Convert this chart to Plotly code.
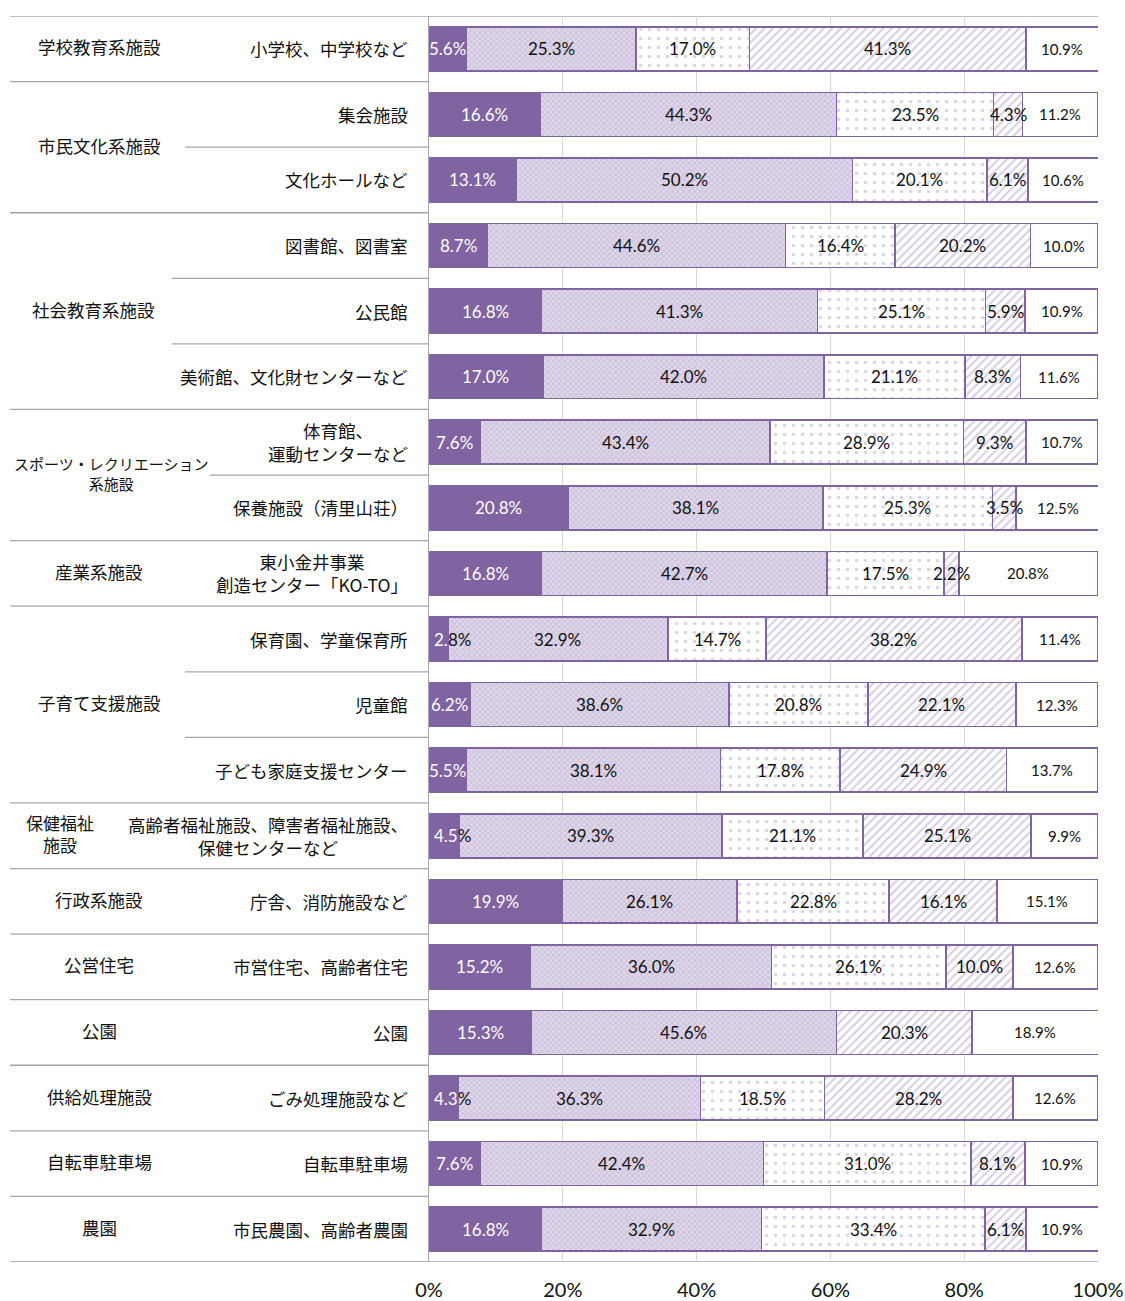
import plotly.graph_objects as go

# --- data -------------------------------------------------------------------
groups = [
    "学校教育系施設", "市民文化系施設", "社会教育系施設",
    "スポーツ・レクリエーション<br>系施設", "産業系施設", "子育て支援施設",
    "保健福祉<br>施設", "行政系施設", "公営住宅", "公園", "供給処理施設",
    "自転車駐車場", "農園",
]
group_rows = [
    [0], [1, 2], [3, 4, 5], [6, 7], [8], [9, 10, 11], [12], [13], [14],
    [15], [16], [17], [18],
]
facilities = [
    "小学校、中学校など",
    "集会施設",
    "文化ホールなど",
    "図書館、図書室",
    "公民館",
    "美術館、文化財センターなど",
    "体育館、<br>運動センターなど",
    "保養施設（清里山荘）",
    "東小金井事業<br>創造センター「KO-TO」",
    "保育園、学童保育所",
    "児童館",
    "子ども家庭支援センター",
    "高齢者福祉施設、障害者福祉施設、<br>保健センターなど",
    "庁舎、消防施設など",
    "市営住宅、高齢者住宅",
    "公園",
    "ごみ処理施設など",
    "自転車駐車場",
    "市民農園、高齢者農園",
]

share_1 = [5.6, 16.6, 13.1, 8.7, 16.8, 17.0, 7.6, 20.8, 16.8, 2.8, 6.2, 5.5,
           4.5, 19.9, 15.2, 15.3, 4.3, 7.6, 16.8]
share_2 = [25.3, 44.3, 50.2, 44.6, 41.3, 42.0, 43.4, 38.1, 42.7, 32.9, 38.6,
           38.1, 39.3, 26.1, 36.0, 45.6, 36.3, 42.4, 32.9]
share_3 = [17.0, 23.5, 20.1, 16.4, 25.1, 21.1, 28.9, 25.3, 17.5, 14.7, 20.8,
           17.8, 21.1, 22.8, 26.1, None, 18.5, 31.0, 33.4]
share_4 = [41.3, 4.3, 6.1, 20.2, 5.9, 8.3, 9.3, 3.5, 2.2, 38.2, 22.1, 24.9,
           25.1, 16.1, 10.0, 20.3, 28.2, 8.1, 6.1]
share_5 = [10.9, 11.2, 10.6, 10.0, 10.9, 11.6, 10.7, 12.5, 20.8, 11.4, 12.3,
           13.7, 9.9, 15.1, 12.6, 18.9, 12.6, 10.9, 10.9]

x_ticks = [0, 20, 40, 60, 80, 100]
x_tick_text = ["0%", "20%", "40%", "60%", "80%", "100%"]

# --- layout geometry --------------------------------------------------------
FIG_W, FIG_H = 1125, 1301
M_L, M_R, M_T, M_B = 429, 27, 16, 39
PLOT_W = FIG_W - M_L - M_R


def px_x(px):
    """Horizontal pixel position -> paper coordinate."""
    return (px - M_L) / PLOT_W


PURPLE = "#8064A2"
EDGE = "#8064A2"
JP_FONT = "Noto Sans CJK JP"
NUM_FONT = "Lato, Carlito, Calibri, Liberation Sans, sans-serif"
TEXT_DARK = "#111111"
LABEL_SIZE = 17

# approximate advance widths (em) of the label glyphs, used to colour the
# part of a label that sits on the solid segment differently from the rest
GLYPH_EM = {".": 0.25, "%": 0.80}


def two_tone(label, left_px, edge_px, size):
    """Colour characters left of edge_px white and the rest dark."""
    pos = left_px
    light, dark = "", ""
    for ch in label:
        w = GLYPH_EM.get(ch, 0.58) * size
        if pos + w / 2 <= edge_px and not dark:
            light += ch
        else:
            dark += ch
        pos += w
    out = ""
    if light:
        out += f"<span style='color:white'>{light}</span>"
    if dark:
        out += f"<span style='color:{TEXT_DARK}'>{dark}</span>"
    return out


rows = list(range(len(facilities)))

series = [
    dict(vals=share_1, name="区分1", color=PURPLE, pattern=None,
         font=dict(color="white", size=LABEL_SIZE)),
    dict(vals=share_2, name="区分2", color="#DED6E9",
         pattern=dict(shape="x", bgcolor="#E0D8EA", fgcolor="#B5A5CD",
                      size=4, solidity=0.45),
         font=dict(color=TEXT_DARK, size=LABEL_SIZE)),
    dict(vals=share_3, name="区分3", color="white",
         pattern=dict(shape=".", bgcolor="white", fgcolor="#B8A9D1",
                      size=9, solidity=0.13),
         font=dict(color=TEXT_DARK, size=LABEL_SIZE)),
    dict(vals=share_4, name="区分4", color="white",
         pattern=dict(shape="/", bgcolor="white", fgcolor="#AE9CCB",
                      size=6, solidity=0.35),
         font=dict(color=TEXT_DARK, size=LABEL_SIZE)),
    dict(vals=share_5, name="区分5", color="white", pattern=None,
         font=dict(color=TEXT_DARK, size=15)),
]

fig = go.Figure()
annotations = []
cum = [0.0] * len(rows)
for k, s in enumerate(series):
    marker = dict(color=s["color"], line=dict(color=EDGE, width=1.6))
    if s["pattern"] is not None:
        marker["pattern"] = s["pattern"]
    fig.add_trace(go.Bar(
        y=rows, x=s["vals"], orientation="h", name=s["name"],
        marker=marker, hoverinfo="skip", showlegend=False,
    ))
    # value labels drawn on top so neighbouring segments never cover them
    for i, v in enumerate(s["vals"]):
        if v is None:
            continue
        label = f"{v:.1f}%"
        centre = cum[i] + v / 2
        ann = dict(
            text=label, x=centre, xref="x", y=i, yref="y",
            xanchor="center", yanchor="middle", showarrow=False,
            font=dict(family=NUM_FONT, **s["font"]),
        )
        if k == 0 and v < 5:
            # narrow first segment: keep the label inside the plot area and
            # switch to dark text where it runs onto the next segment
            edge_px = v / 100 * PLOT_W
            ann.update(x=0, xanchor="left", xshift=3,
                       text=two_tone(label, 3, edge_px, LABEL_SIZE))
        annotations.append(ann)
        cum[i] += v

# facility labels, right-aligned next to the bars
for i, name in enumerate(facilities):
    annotations.append(dict(
        text=name, x=px_x(410), xref="paper", y=i, yref="y",
        xanchor="right", yanchor="middle", align="center", showarrow=False,
        font=dict(family=JP_FONT, size=17.5, color=TEXT_DARK),
    ))

# group labels and separators
shapes = []
group_centers = [99, 99, 93, 111, 99, 99, 60, 99, 99, 99, 99, 99, 99]
group_sizes = [17.5, 17.5, 17.5, 15, 17.5, 17.5, 17, 17.5, 17.5, 17.5, 17.5,
               17.5, 17.5]
inner_start = {1: 185, 2: 172, 3: 210, 5: 185}
LINE_GRAY = "#A6A6A6"
for g, (name, rws) in enumerate(zip(groups, group_rows)):
    yc = sum(rws) / len(rws)
    annotations.append(dict(
        text=name, x=px_x(group_centers[g]), xref="paper", y=yc, yref="y",
        xanchor="center", yanchor="middle", align="center", showarrow=False,
        yshift=2, font=dict(family=JP_FONT, size=group_sizes[g], color=TEXT_DARK),
    ))
    # full-width line below each group
    shapes.append(dict(type="line", xref="paper", yref="y",
                       x0=px_x(10), x1=0, y0=rws[-1] + 0.5, y1=rws[-1] + 0.5,
                       line=dict(color=LINE_GRAY, width=1.3)))
    # shorter lines between rows of the same group
    for r in rws[:-1]:
        shapes.append(dict(type="line", xref="paper", yref="y",
                           x0=px_x(inner_start[g]), x1=0, y0=r + 0.5, y1=r + 0.5,
                           line=dict(color=LINE_GRAY, width=1.3)))

# top and bottom frame lines across labels and plot
for yv in (-0.5, len(rows) - 0.5):
    shapes.append(dict(type="line", xref="paper", yref="y",
                       x0=px_x(10), x1=1, y0=yv, y1=yv,
                       line=dict(color=LINE_GRAY, width=1.3), layer="below"))

fig.update_layout(
    width=FIG_W, height=FIG_H, autosize=False,
    margin=dict(l=M_L, r=M_R, t=M_T, b=M_B, autoexpand=False),
    paper_bgcolor="white", plot_bgcolor="white",
    barmode="stack", bargap=0.33,
    annotations=annotations, shapes=shapes,
    xaxis=dict(
        range=[0, 100], tickmode="array", tickvals=x_ticks, ticktext=x_tick_text,
        showgrid=True, gridcolor="#D9D9D9", gridwidth=1,
        zeroline=False, showline=False, ticks="", automargin=False,
        ticklabelstandoff=14,
        tickfont=dict(family=NUM_FONT, size=20, color=TEXT_DARK),
        fixedrange=True,
    ),
    yaxis=dict(
        range=[len(rows) - 0.5, -0.5], showgrid=False, zeroline=False,
        showticklabels=False, showline=True, linecolor=LINE_GRAY, linewidth=1.3,
        ticks="", fixedrange=True, automargin=False,
    ),
)

fig.write_html("out.html")
